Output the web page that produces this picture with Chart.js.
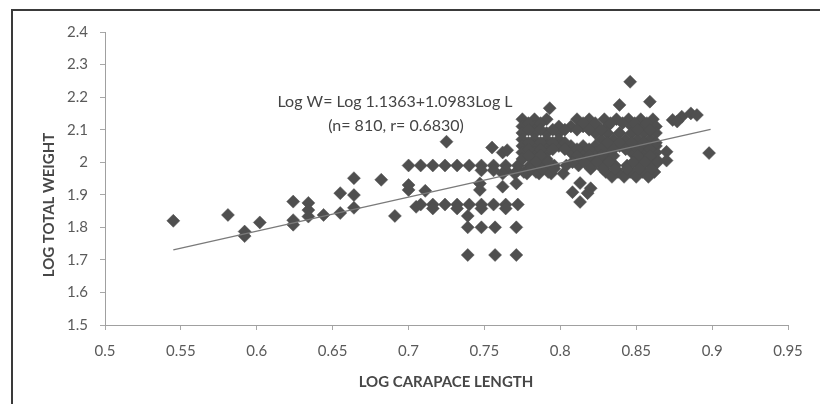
<!DOCTYPE html>
<html lang="en">
<head>
<meta charset="UTF-8">
<title>Log carapace length vs log total weight</title>
<script src="https://cdn.jsdelivr.net/npm/chart.js@4.4.0/dist/chart.umd.min.js"></script>
<style>
  html, body { margin: 0; padding: 0; background: #fff; }
  #wrap { width: 820px; height: 404px; }
</style>
</head>
<body>
<div id="wrap"><canvas id="myChart" width="820" height="404"></canvas></div>
<script>
// tick labels as printed on the axes
const xTickLabels = ['0.5', '0.55', '0.6', '0.65', '0.7', '0.75', '0.8', '0.85', '0.9', '0.95'];
const yTickLabels = ['1.5', '1.6', '1.7', '1.8', '1.9', '2', '2.1', '2.2', '2.3', '2.4'];

// small fish, left part of the cloud
const leftX = [0.545, 0.581, 0.592, 0.592, 0.602, 0.624, 0.624, 0.624, 0.634, 0.634, 0.634, 0.644,
  0.655, 0.655, 0.664, 0.664, 0.664, 0.682, 0.691, 0.700, 0.700, 0.705, 0.711];
const leftY = [1.820, 1.838, 1.787, 1.773, 1.815, 1.879, 1.822, 1.808, 1.875, 1.853, 1.833, 1.838,
  1.905, 1.844, 1.951, 1.899, 1.860, 1.946, 1.835, 1.930, 1.915, 1.863, 1.912];

// middle band (0.70 - 0.80)
const midX = [0.700, 0.708, 0.716, 0.724, 0.732, 0.740, 0.748, 0.756, 0.764, 0.772,
  0.748, 0.756, 0.764, 0.772,
  0.762, 0.770, 0.778, 0.786, 0.794, 0.802,
  0.708, 0.716, 0.724, 0.732, 0.740, 0.748, 0.756, 0.764, 0.772,
  0.716, 0.732, 0.748, 0.764,
  0.739, 0.739, 0.748, 0.757, 0.771, 0.739, 0.757, 0.771,
  0.747, 0.747, 0.762, 0.771, 0.725, 0.755, 0.762, 0.765];
const midY = [1.990, 1.990, 1.990, 1.990, 1.990, 1.990, 1.990, 1.990, 1.990, 1.990,
  1.975, 1.975, 1.975, 1.975,
  1.965, 1.965, 1.965, 1.965, 1.965, 1.965,
  1.870, 1.870, 1.870, 1.870, 1.870, 1.870, 1.870, 1.870, 1.870,
  1.858, 1.858, 1.858, 1.858,
  1.835, 1.800, 1.800, 1.800, 1.800, 1.715, 1.715, 1.715,
  1.935, 1.915, 1.925, 1.935, 2.063, 2.045, 2.030, 2.037];

// large fish, dense upper cluster (0.77 - 0.90)
const upperX = [0.775, 0.783, 0.791, 0.811, 0.819, 0.829, 0.837, 0.845, 0.853, 0.861,
  0.775, 0.783, 0.799, 0.807, 0.815, 0.823, 0.831, 0.847, 0.855, 0.863,
  0.775, 0.783, 0.791, 0.799, 0.823, 0.831, 0.839, 0.847, 0.855, 0.863,
  0.775, 0.783, 0.791, 0.799, 0.827, 0.835, 0.843, 0.851, 0.859,
  0.775, 0.783, 0.791, 0.799, 0.807, 0.815, 0.823, 0.831, 0.839, 0.847, 0.855, 0.863,
  0.775, 0.783, 0.791, 0.807, 0.815, 0.823, 0.831, 0.847, 0.855, 0.863,
  0.775, 0.783, 0.791, 0.811, 0.819, 0.827, 0.855, 0.863,
  0.780, 0.788, 0.796, 0.804, 0.812, 0.820, 0.828, 0.836, 0.844, 0.852, 0.860,
  0.776, 0.784, 0.792, 0.830, 0.838, 0.846, 0.854, 0.862,
  0.834, 0.842, 0.850, 0.858,
  0.793, 0.839, 0.859, 0.846, 0.870, 0.870, 0.898,
  0.874, 0.880, 0.886, 0.890, 0.877,
  0.813, 0.808, 0.818, 0.813, 0.820];
const upperY = [2.132, 2.132, 2.132, 2.132, 2.132, 2.132, 2.132, 2.132, 2.132, 2.132,
  2.110, 2.110, 2.110, 2.110, 2.110, 2.110, 2.110, 2.110, 2.110, 2.110,
  2.090, 2.090, 2.090, 2.090, 2.090, 2.090, 2.090, 2.090, 2.090, 2.090,
  2.070, 2.070, 2.070, 2.070, 2.070, 2.070, 2.070, 2.070, 2.070,
  2.050, 2.050, 2.050, 2.050, 2.050, 2.050, 2.050, 2.050, 2.050, 2.050, 2.050, 2.050,
  2.030, 2.030, 2.030, 2.030, 2.030, 2.030, 2.030, 2.030, 2.030, 2.030,
  2.010, 2.010, 2.010, 2.010, 2.010, 2.010, 2.010, 2.010,
  1.990, 1.990, 1.990, 1.990, 1.990, 1.990, 1.990, 1.990, 1.990, 1.990, 1.990,
  1.970, 1.970, 1.970, 1.970, 1.970, 1.970, 1.970, 1.970,
  1.955, 1.955, 1.955, 1.955,
  2.166, 2.176, 2.186, 2.247, 2.032, 2.005, 2.028,
  2.130, 2.140, 2.150, 2.145, 2.125,
  1.936, 1.908, 1.905, 1.878, 1.920];

// in-between rows of the upper cluster, offset half a step
const fillX = [0.779, 0.787, 0.815, 0.823, 0.833, 0.841, 0.849, 0.857,
  0.779, 0.787, 0.795, 0.803, 0.811, 0.819, 0.827, 0.851, 0.859,
  0.779, 0.787, 0.795, 0.803, 0.831, 0.839, 0.847, 0.855, 0.863,
  0.779, 0.787, 0.795, 0.803, 0.811, 0.819, 0.827, 0.835, 0.843, 0.851, 0.859,
  0.779, 0.787, 0.811, 0.819, 0.827, 0.835, 0.851, 0.859,
  0.784, 0.792, 0.808, 0.816, 0.824, 0.832, 0.848, 0.856, 0.864,
  0.780, 0.788, 0.796, 0.820, 0.828, 0.836, 0.844, 0.852, 0.860];
const fillY = [2.120, 2.120, 2.120, 2.120, 2.120, 2.120, 2.120, 2.120,
  2.100, 2.100, 2.100, 2.100, 2.100, 2.100, 2.100, 2.100, 2.100,
  2.060, 2.060, 2.060, 2.060, 2.060, 2.060, 2.060, 2.060, 2.060,
  2.040, 2.040, 2.040, 2.040, 2.040, 2.040, 2.040, 2.040, 2.040, 2.040, 2.040,
  2.020, 2.020, 2.020, 2.020, 2.020, 2.020, 2.020, 2.020,
  2.000, 2.000, 2.000, 2.000, 2.000, 2.000, 2.000, 2.000, 2.000,
  1.980, 1.980, 1.980, 1.980, 1.980, 1.980, 1.980, 1.980, 1.980];

const fitX = [0.545, 0.899];
const fitY = [1.731, 2.101];

const eqLines = ['Log W= Log 1.1363+1.0983Log L', '(n= 810, r= 0.6830)'];
const xTitle = 'LOG CARAPACE LENGTH';
const yTitle = 'LOG TOTAL WEIGHT';

function toPoints(xs, ys) {
  return xs.map((x, i) => ({ x: x, y: ys[i] }));
}
const scatterPts = toPoints(leftX, leftY).concat(
  toPoints(midX, midY), toPoints(upperX, upperY), toPoints(fillX, fillY));

const FONT = 'Lato, "Open Sans", sans-serif';

// frame, titles and the equation
const decor = {
  id: 'decor',
  beforeDraw(chart) {
    const c = chart.ctx;
    c.save();
    c.fillStyle = '#fff';
    c.fillRect(0, 0, chart.width, chart.height);
    c.strokeStyle = '#3a3a3a';
    c.lineWidth = 2;
    c.strokeRect(12, 10, 900, 500);
    c.restore();
  },
  afterDraw(chart) {
    const c = chart.ctx;
    c.save();
    c.fillStyle = '#474747';
    c.textAlign = 'center';
    c.textBaseline = 'middle';
    c.font = 'bold 15px ' + FONT;
    c.fillText(xTitle, 446, 382);
    c.translate(49, 205);
    c.rotate(-Math.PI / 2);
    c.fillText(yTitle, 0, 0);
    c.restore();

    c.save();
    c.fillStyle = '#444';
    c.textAlign = 'center';
    c.textBaseline = 'middle';
    c.font = '16px ' + FONT;
    c.fillText(eqLines[0], 395, 102);
    c.fillText(eqLines[1], 396, 126);
    c.restore();
  }
};

const ctx = document.getElementById('myChart');
const myChart = new Chart(ctx, {
  type: 'scatter',
  data: {
    datasets: [{
      type: 'line',
      label: 'fit',
      data: toPoints(fitX, fitY),
      borderColor: '#7a7a7a',
      borderWidth: 1.3,
      pointRadius: 0,
      fill: false
    }, {
      label: 'fish',
      data: scatterPts,
      pointStyle: 'rectRot',
      pointRadius: 6.5,
      pointBackgroundColor: '#4f4f4f',
      pointBorderColor: '#4f4f4f',
      pointBorderWidth: 0.5
    }]
  },
  options: {
    responsive: false,
    animation: false,
    events: [],
    layout: { padding: { left: 0, top: 32, right: 32, bottom: 0 } },
    plugins: { legend: { display: false }, tooltip: { enabled: false } },
    scales: {
      x: {
        type: 'linear',
        min: 0.5,
        max: 0.95,
        afterFit(s) { s.height = 79; },
        afterBuildTicks(s) { s.ticks = xTickLabels.map(v => ({ value: parseFloat(v) })); },
        ticks: {
          color: '#5a5a5a',
          font: { family: FONT, size: 15 },
          padding: 12,
          maxRotation: 0,
          autoSkip: false,
          callback: (v, i) => xTickLabels[i]
        },
        grid: { drawOnChartArea: false, drawTicks: true, tickLength: 5, color: '#a8a8a8' },
        border: { display: true, color: '#a0a0a0', width: 1 }
      },
      y: {
        type: 'linear',
        min: 1.5,
        max: 2.4,
        afterFit(s) { s.width = 105; },
        afterBuildTicks(s) { s.ticks = yTickLabels.map(v => ({ value: parseFloat(v) })); },
        ticks: {
          color: '#5a5a5a',
          font: { family: FONT, size: 15 },
          padding: 12,
          autoSkip: false,
          callback: (v, i) => yTickLabels[i]
        },
        grid: { drawOnChartArea: false, drawTicks: true, tickLength: 5, color: '#a8a8a8' },
        border: { display: true, color: '#a0a0a0', width: 1 }
      }
    }
  },
  plugins: [decor]
});
</script>
</body>
</html>
